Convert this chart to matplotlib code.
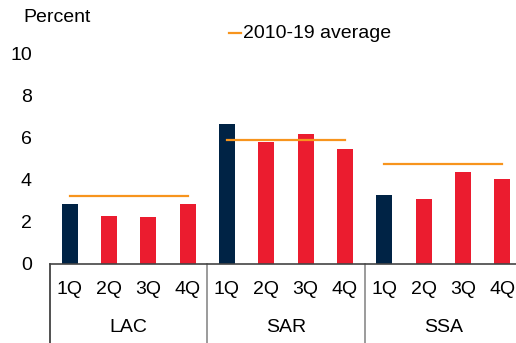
import matplotlib
matplotlib.use("Agg")
from matplotlib import pyplot as plt
from matplotlib.lines import Line2D

plt.rcParams['font.family'] = ['Liberation Sans', 'DejaVu Sans']

regions = ["LAC", "SAR", "SSA"]
quarters = ["1Q", "2Q", "3Q", "4Q"]
growth = {
    "LAC": [2.83, 2.29, 2.22, 2.86],
    "SAR": [6.65, 5.80, 6.17, 5.47],
    "SSA": [3.27, 3.07, 4.36, 4.02],
}
avg_2010_19 = {"LAC": 3.2, "SAR": 5.87, "SSA": 4.72}

navy = "#002345"
red = "#EB1C2F"
orange = "#F7941D"

W, H = 516, 343
fig = plt.figure(figsize=(W / 100, H / 100), dpi=100)
ax = fig.add_axes([50 / W, 79 / H, 472 / W, 211 / H])

for g, reg in enumerate(regions):
    xs = [g * 4 + i for i in range(4)]
    colors = [navy] + [red] * 3
    ax.bar(xs, growth[reg], width=0.41, color=colors, zorder=2)
    ax.plot([xs[0], xs[-1]], [avg_2010_19[reg]] * 2, color=orange, lw=1.6, zorder=3)
    for x, q in zip(xs, quarters):
        ax.text(x, -0.123, q, transform=ax.get_xaxis_transform(),
                ha="center", va="center", fontsize=14)
    ax.text(g * 4 + 1.5, -0.299, reg, transform=ax.get_xaxis_transform(),
            ha="center", va="center", fontsize=14)

# group separators below the axis
for k, x in enumerate([-0.5, 3.5, 7.5]):
    ax.plot([x, x], [0, -0.38], transform=ax.get_xaxis_transform(),
            color="#333333" if k == 0 else "#8a8a8a", lw=1.2, clip_on=False)

ax.set_xlim(-0.5, 11.5)
ax.set_ylim(0, 10)
ax.set_yticks([0, 2, 4, 6, 8, 10])
ax.tick_params(axis="y", length=0, pad=13, labelsize=14)
ax.set_xticks([])
for s in ["top", "right", "left"]:
    ax.spines[s].set_visible(False)
ax.spines["bottom"].set_color("#444444")
ax.spines["bottom"].set_linewidth(1.2)

fig.text(23 / W, 1 - 17 / H, "Percent", ha="left", va="center", fontsize=14)
fig.add_artist(Line2D([229 / W, 241 / W], [1 - 33 / H] * 2, color=orange, lw=1.6))
fig.text(243 / W, 1 - 33 / H, "2010-19 average", ha="left", va="center", fontsize=14)

fig.savefig("out.png", dpi=100)
